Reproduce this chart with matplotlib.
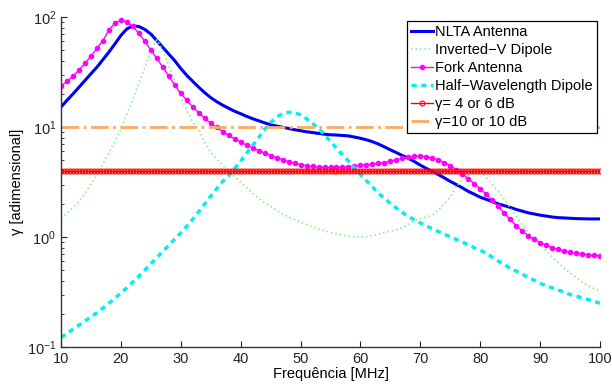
import numpy as np
import matplotlib
matplotlib.use('Agg')
import matplotlib.pyplot as plt

plt.rcParams['font.family'] = ['Liberation Sans', 'DejaVu Sans']
plt.rcParams['mathtext.fontset'] = 'custom'
plt.rcParams['mathtext.rm'] = 'Liberation Sans'

# Frequências (MHz) e ganho adimensional
freq = list(range(10, 101))

nlta = [15.2, 17.5, 20.0, 23.0, 26.5, 30.5, 35.0, 41.0, 48.0, 57.0,
        68.0, 78.0, 83.0, 82.0, 77.0, 70.0, 61.0, 53.0, 46.0, 40.0,
        34.0, 29.5, 26.0, 23.0, 20.5, 18.5, 17.0, 15.8, 14.8, 13.9,
        13.2, 12.5, 11.9, 11.4, 10.9, 10.5, 10.2, 9.95, 9.7, 9.45,
        9.25, 9.05, 8.9, 8.75, 8.6, 8.5, 8.45, 8.38, 8.3, 8.1,
        7.9, 7.65, 7.35, 7.0, 6.6, 6.2, 5.85, 5.5, 5.2, 4.85,
        4.5, 4.2, 3.95, 3.7, 3.45, 3.2, 3.0, 2.8, 2.6, 2.45,
        2.3, 2.2, 2.1, 2.0, 1.93, 1.86, 1.78, 1.72, 1.66, 1.62,
        1.58, 1.55, 1.52, 1.5, 1.49, 1.48, 1.47, 1.465, 1.46, 1.46,
        1.46]

inv_v = [1.48, 1.65, 1.85, 2.1, 2.5, 3.0, 3.7, 4.6, 5.8, 7.4,
         9.5, 13.0, 18.0, 25.0, 35.0, 50.0, 62.0, 50.0, 36.0, 26.0,
         19.0, 14.0, 11.0, 9.4, 7.2, 5.9, 5.1, 4.5, 4.0, 3.55,
         3.15, 2.8, 2.5, 2.25, 2.05, 1.9, 1.75, 1.62, 1.52, 1.44,
         1.37, 1.3, 1.24, 1.18, 1.14, 1.1, 1.07, 1.04, 1.02, 1.01,
         1.0, 1.01, 1.03, 1.06, 1.1, 1.13, 1.16, 1.22, 1.3, 1.4,
         1.47, 1.52, 1.58, 1.75, 2.0, 2.3, 2.9, 3.3, 3.6, 3.8,
         3.95, 3.5, 3.0, 2.6, 2.2, 1.85, 1.55, 1.3, 1.1, 0.97,
         0.85, 0.75, 0.66, 0.59, 0.52, 0.47, 0.43, 0.39, 0.36, 0.34,
         0.32]

fork = [23.6, 26.0, 29.0, 33.0, 38.0, 44.0, 52.0, 61.0, 76.0, 88.0,
        94.0, 90.0, 82.0, 71.0, 60.0, 50.0, 42.0, 35.0, 29.0, 24.0,
        20.2, 17.5, 15.2, 13.5, 12.0, 10.8, 9.9, 9.1, 8.4, 7.8,
        7.3, 6.85, 6.45, 6.1, 5.8, 5.5, 5.25, 5.05, 4.85, 4.7,
        4.55, 4.45, 4.38, 4.33, 4.3, 4.3, 4.3, 4.32, 4.35, 4.45,
        4.5, 4.55, 4.6, 4.68, 4.75, 4.9, 5.05, 5.2, 5.33, 5.42,
        5.45, 5.38, 5.22, 5.0, 4.75, 4.45, 4.1, 3.75, 3.4, 3.05,
        2.75, 2.45, 2.15, 1.9, 1.65, 1.45, 1.27, 1.14, 1.03, 0.95,
        0.89, 0.84, 0.8, 0.77, 0.745, 0.725, 0.71, 0.7, 0.69, 0.68,
        0.675]

dipolo = [0.122, 0.133, 0.145, 0.158, 0.172, 0.188, 0.205, 0.226, 0.25, 0.277,
          0.31, 0.345, 0.39, 0.44, 0.5, 0.57, 0.65, 0.74, 0.84, 0.96,
          1.09, 1.25, 1.45, 1.7, 2.0, 2.35, 2.75, 3.2, 3.6, 4.2,
          4.9, 5.8, 6.8, 8.0, 9.5, 11.0, 12.3, 13.2, 13.6, 13.5,
          12.9, 11.9, 10.8, 9.7, 8.5, 7.4, 6.4, 5.6, 4.9, 4.25,
          3.7, 3.25, 2.85, 2.5, 2.25, 2.02, 1.83, 1.67, 1.54, 1.43,
          1.34, 1.26, 1.19, 1.12, 1.06, 1.0, 0.95, 0.9, 0.85, 0.8,
          0.76, 0.71, 0.655, 0.605, 0.56, 0.52, 0.49, 0.46, 0.43, 0.405,
          0.38, 0.36, 0.345, 0.33, 0.315, 0.3, 0.29, 0.28, 0.27, 0.26,
          0.25]

# Limiares de ganho
freq_lim = np.arange(10, 100.5, 0.5)
gamma_4 = 4.0
gamma_10 = 10.0

fig = plt.figure(figsize=(6.12, 3.85), dpi=100)
ax = fig.add_axes([0.0997, 0.0987, 0.8807, 0.8571])

ax.plot(freq, nlta, color='#0000f0', lw=2.2, label='NLTA Antenna')
ax.plot(freq, inv_v, color='#8ef08e', lw=1.2, ls=':', label='Inverted\u2212V Dipole')
ax.plot(freq, fork, color='#ff00ff', lw=1, marker='o', ms=3, label='Fork Antenna')
ax.plot(freq, dipolo, color='#00f0f0', lw=2.5, ls='--', dashes=(1.5, 1.3),
        label='Half\u2212Wavelength Dipole')
ax.plot(freq_lim, np.full(len(freq_lim), gamma_4), color='#ff0000', lw=1,
        marker='o', ms=3.5, mfc='none', mew=0.8, label='\u03b3= 4 or 6 dB')
ax.plot(freq_lim, np.full(len(freq_lim), gamma_10), color='#fbaa60', lw=2,
        ls='-.', label='\u03b3=10 or 10 dB')

ax.set_yscale('log')
ax.set_xlim(10, 100)
ax.set_ylim(0.1, 100)
ax.set_xticks(range(10, 101, 10))

ax.spines['top'].set_visible(False)
ax.spines['right'].set_visible(False)
for s in ('left', 'bottom'):
    ax.spines[s].set_color('#333333')
    ax.spines[s].set_linewidth(1)
ax.tick_params(which='both', direction='in', labelsize=10.5, colors='#222222')
ax.tick_params(which='major', length=4)
ax.tick_params(which='minor', length=2.5)
ax.tick_params(axis='x', which='minor', bottom=False)

ax.set_xlabel('Frequência [MHz]', fontsize=10.5, labelpad=1)
ax.set_ylabel('\u03b3 [adimensional]', fontsize=10.5, labelpad=2)

leg = ax.legend(loc='upper right', bbox_to_anchor=(0.995, 0.988), fontsize=10.5,
                frameon=True, fancybox=False, edgecolor='black', framealpha=1,
                handlelength=1.5, handletextpad=0.15, labelspacing=0.27,
                borderpad=0.3, borderaxespad=0)
leg.get_frame().set_linewidth(0.9)

plt.savefig('out.png', dpi=100)
